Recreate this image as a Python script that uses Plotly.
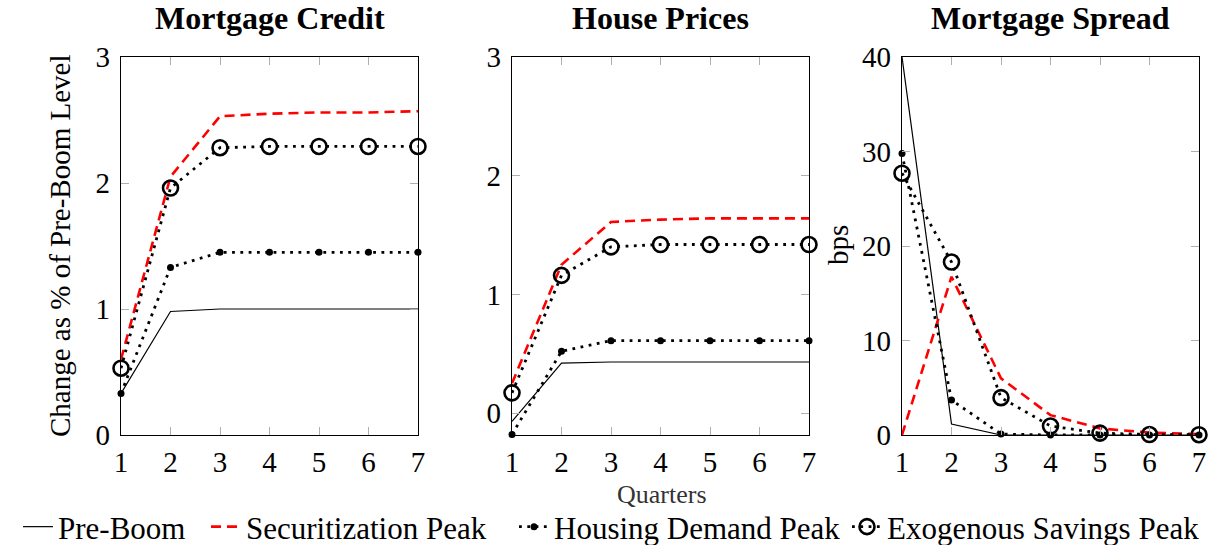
import plotly.graph_objects as go

quarters = [1, 2, 3, 4, 5, 6, 7]

credit_pre = [0.33, 0.98, 1.0, 1.0, 1.0, 1.0, 1.0]
credit_sec = [0.60, 2.05, 2.53, 2.55, 2.56, 2.56, 2.57]
credit_hd = [0.33, 1.33, 1.45, 1.45, 1.45, 1.45, 1.45]
credit_es = [0.53, 1.96, 2.28, 2.29, 2.29, 2.29, 2.29]

price_pre = [-0.07, 0.42, 0.43, 0.43, 0.43, 0.43, 0.43]
price_sec = [0.25, 1.25, 1.61, 1.63, 1.64, 1.64, 1.64]
price_hd = [-0.18, 0.52, 0.61, 0.61, 0.61, 0.61, 0.61]
price_es = [0.17, 1.16, 1.40, 1.42, 1.42, 1.42, 1.42]

spread_pre = [40.0, 1.16, 0.0, 0.0, 0.0, 0.0, 0.0]
spread_sec = [0.0, 16.75, 6.0, 2.1, 0.7, 0.25, 0.1]
spread_hd = [29.8, 3.7, 0.1, 0.0, 0.0, 0.0, 0.0]
spread_es = [27.7, 18.3, 3.95, 0.95, 0.2, 0.05, 0.03]

series_names = ["Pre-Boom", "Securitization Peak", "Housing Demand Peak", "Exogenous Savings Peak"]
titles = ["Mortgage Credit", "House Prices", "Mortgage Spread"]

FONT = "Liberation Serif"
FS = 29

W, H = 1226, 545
panels_px = [(121, 418), (512, 809), (902, 1199)]
y_top, y_bot = 57, 435

styles = [
    dict(mode="lines", line=dict(color="black", width=1.2)),
    dict(mode="lines", line=dict(color="#ff0000", width=2.6, dash="10px,6px")),
    dict(mode="lines+markers", line=dict(color="black", width=2.8, dash="2.8px,5.5px"),
         marker=dict(symbol="circle", size=7, color="black")),
    dict(mode="lines+markers", line=dict(color="black", width=2.8, dash="2.8px,5.5px"),
         marker=dict(symbol="circle-open", size=15, color="black", line=dict(width=2.6))),
]

data = [
    [credit_pre, credit_sec, credit_hd, credit_es],
    [price_pre, price_sec, price_hd, price_es],
    [spread_pre, spread_sec, spread_hd, spread_es],
]

fig = go.Figure()
legend_ids = ["legend", "legend2", "legend3", "legend4"]
for p in range(3):
    for s in range(4):
        suffix = "" if p == 0 else str(p + 1)
        fig.add_trace(go.Scatter(
            x=quarters, y=data[p][s], name=series_names[s],
            xaxis="x" + suffix, yaxis="y" + suffix,
            showlegend=(p == 0), legend=legend_ids[s],
            cliponaxis=False, **styles[s]))

ydom = [1 - y_bot / H, 1 - y_top / H]
yranges = [[0, 3], [-0.185, 3], [0, 40]]
ytickvals = [[0, 1, 2, 3], [0, 1, 2, 3], [0, 10, 20, 30, 40]]

axis_common = dict(showline=True, linecolor="black", linewidth=1.2, mirror="ticks",
                   ticks="inside", ticklen=8, tickcolor="#b0b0b0", tickwidth=1.2,
                   showgrid=False, zeroline=False, automargin=False,
                   tickfont=dict(family=FONT, size=FS, color="black"))

layout = dict(width=W, height=H, margin=dict(l=0, r=0, t=0, b=0, autoexpand=False),
              paper_bgcolor="white", plot_bgcolor="white", font=dict(family=FONT, size=FS, color="black"))
for p in range(3):
    suffix = "" if p == 0 else str(p + 1)
    x0, x1 = panels_px[p]
    layout["xaxis" + suffix] = dict(domain=[x0 / W, x1 / W], range=[1, 7], anchor="y" + suffix,
                                     tickvals=quarters, ticklabelstandoff=1, **axis_common)
    layout["yaxis" + suffix] = dict(domain=ydom, range=yranges[p], anchor="x" + suffix,
                                     tickvals=ytickvals[p], ticklabelstandoff=4, **axis_common)

legend_x = [18, 206, 514, 847]
for i, lid in enumerate(legend_ids):
    layout[lid] = dict(x=legend_x[i] / W, xanchor="left", y=1 - 527 / H, yanchor="middle",
                       orientation="h", bgcolor="rgba(0,0,0,0)", borderwidth=0,
                       font=dict(family=FONT, size=31, color="black"), itemwidth=30)

fig.update_layout(**layout)

title_x = [269.5, 660.5, 1050.5]
for p in range(3):
    fig.add_annotation(text="<b>" + titles[p] + "</b>", x=title_x[p] / W, y=1 - 18 / H,
                       xref="paper", yref="paper", showarrow=False, xanchor="center", yanchor="middle",
                       font=dict(family=FONT, size=32, color="black"))

fig.add_annotation(text="Change as % of Pre-Boom Level", x=60 / W, y=1 - 246 / H, xref="paper", yref="paper",
                   showarrow=False, textangle=-90, xanchor="center", yanchor="middle",
                   font=dict(family=FONT, size=FS, color="black"))
fig.add_annotation(text="bps", x=838 / W, y=1 - 245 / H, xref="paper", yref="paper",
                   showarrow=False, textangle=-90, xanchor="center", yanchor="middle",
                   font=dict(family=FONT, size=FS, color="black"))
fig.add_annotation(text="Quarters", x=662 / W, y=1 - 494 / H, xref="paper", yref="paper",
                   showarrow=False, xanchor="center", yanchor="middle",
                   font=dict(family=FONT, size=26, color="#333333"))

fig.write_html("out.html")
